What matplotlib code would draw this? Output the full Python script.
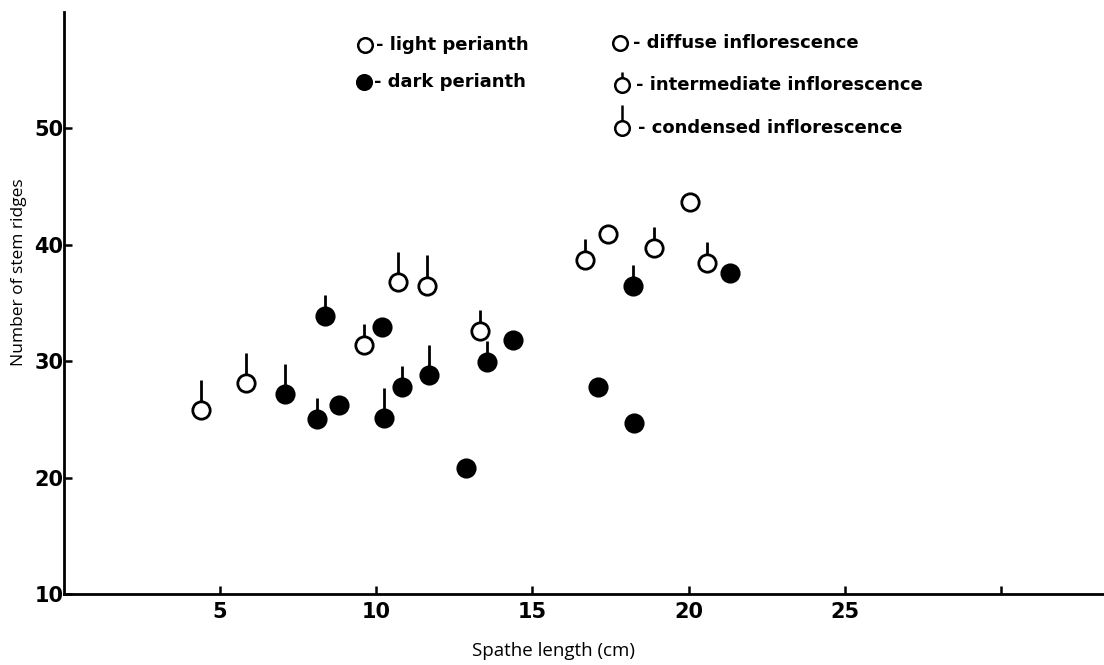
import matplotlib
matplotlib.use("Agg")
import matplotlib.pyplot as plt

# spathe length (cm), number of stem ridges, perianth colour, inflorescence type
spathe = [4.38, 5.82, 7.07, 8.10, 8.81, 8.35, 9.62, 10.19, 10.26, 10.82,
          11.69, 10.71, 11.62, 13.32, 13.54, 14.37, 12.87, 17.11, 18.25,
          16.67, 17.41, 18.90, 20.04, 20.59, 18.23, 21.32]
ridges = [25.8, 28.1, 27.2, 25.0, 26.2, 33.9, 31.4, 32.9, 25.1, 27.8,
          28.8, 36.8, 36.5, 32.6, 29.9, 31.8, 20.8, 27.8, 24.7,
          38.7, 40.9, 39.7, 43.7, 38.4, 36.5, 37.6]
perianth = ["light", "light", "dark", "dark", "dark", "dark", "light", "dark", "dark", "dark",
            "dark", "light", "light", "light", "dark", "dark", "dark", "dark", "dark",
            "light", "light", "light", "light", "light", "dark", "dark"]
inflor = ["condensed", "condensed", "condensed", "intermediate", "diffuse", "intermediate",
          "intermediate", "diffuse", "condensed", "intermediate", "condensed", "condensed",
          "condensed", "intermediate", "intermediate", "diffuse", "diffuse", "diffuse",
          "diffuse", "intermediate", "diffuse", "intermediate", "diffuse", "intermediate",
          "intermediate", "diffuse"]

xticks = [5, 10, 15, 20, 25, 30]
xticklabels = ["5", "10", "15", "20", "25", ""]
yticks = [10, 20, 30, 40, 50]

# stem length (in ridge units) for each inflorescence type
stem_len = {"diffuse": 0, "intermediate": 1.8, "condensed": 2.6}

W, H = 1104, 665
fig = plt.figure(figsize=(W / 100, H / 100), dpi=100)
ax = fig.add_axes([64 / W, 1 - 594 / H, (W - 64) / W, (594 - 12) / H])
ax.set_xlim(0, 33.3)
ax.set_ylim(10, 60)

for sx, ry, p, inf in zip(spathe, ridges, perianth, inflor):
    L = stem_len[inf]
    if L > 0:
        ax.plot([sx, sx], [ry, ry + L], color="black", lw=2.0,
                solid_capstyle="butt", zorder=2)
    ax.plot(sx, ry, "o", ms=12.5, mew=2.0, mec="black",
            mfc="white" if p == "light" else "black", zorder=3)

for s in ["top", "right"]:
    ax.spines[s].set_visible(False)
for s in ["left", "bottom"]:
    ax.spines[s].set_linewidth(2.0)

ax.set_xticks(xticks)
ax.set_xticklabels(xticklabels)
ax.set_yticks(yticks)
ax.tick_params(axis="both", direction="in", length=6, width=1.8)
ax.tick_params(axis="x", pad=6)
ax.tick_params(axis="y", pad=0.5)
for lab in ax.get_xticklabels() + ax.get_yticklabels():
    lab.set_family("DejaVu Sans")
    lab.set_fontweight("bold")
    lab.set_fontsize(15)

fig.text(553 / W, 1 - 651 / H, "Spathe length (cm)", ha="center", va="center",
         fontsize=13.5, family="Open Sans")
fig.text(19 / W, 1 - 272 / H, "Number of stem ridges", ha="center", va="center",
         rotation=90, fontsize=12.5, family="Open Sans")


# legend drawn in figure pixels
def fx(px):
    return px / W


def fy(py):
    return 1 - py / H


legend_marks = [
    (365, 45, "white", 0, "- light perianth", 376),
    (364, 82, "black", 0, "- dark perianth", 374),
    (620, 43, "white", 0, "- diffuse inflorescence", 633),
    (622, 85, "white", 13, "- intermediate inflorescence", 636),
    (622, 128, "white", 23, "- condensed inflorescence", 638),
]
for cx, cy, face, stem, label, tx in legend_marks:
    if stem:
        fig.add_artist(plt.Line2D([fx(cx), fx(cx)], [fy(cy), fy(cy - stem)],
                                  transform=fig.transFigure, color="black",
                                  lw=1.8, solid_capstyle="butt", zorder=2))
    fig.add_artist(plt.Line2D([fx(cx)], [fy(cy)], transform=fig.transFigure,
                              marker="o", ms=10.5, mew=1.8, mec="black",
                              mfc=face, ls="none", zorder=3))
    fig.text(fx(tx), fy(cy), label, ha="left", va="center", fontsize=13,
             fontweight="bold", family="DejaVu Sans")

fig.savefig("out.png", dpi=100)
